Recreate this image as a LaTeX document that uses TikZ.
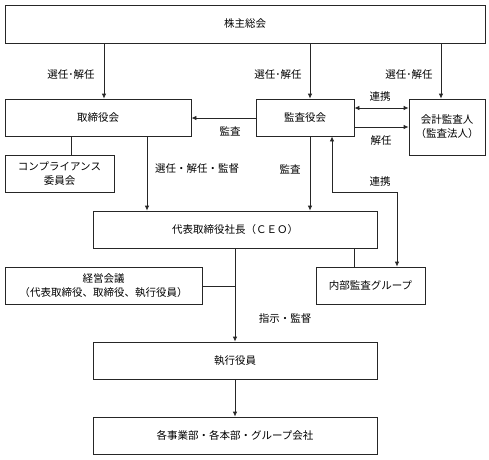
\documentclass[tikz,border=0pt]{standalone}
\usepackage{fontspec}
\setmainfont{Noto Sans CJK JP}
\usetikzlibrary{arrows.meta,calc}
\begin{document}
\begin{tikzpicture}[x=1pt,y=-1pt,
  font=\fontsize{10.5}{14}\selectfont,
  box/.style={draw=black!85,line width=0.8pt,inner sep=0pt,align=center,
    minimum width=#1},
  box/.default=100pt,
  ln/.style={draw=black!85,line width=0.8pt},
  arr/.style={ln,-{Latex[length=5pt,width=4.5pt]}},
  darr/.style={ln,{Latex[length=5pt,width=4.5pt]}-{Latex[length=5pt,width=4.5pt]}},
  lbl/.style={inner sep=0pt}]
\useasboundingbox (0,0) rectangle (489,459);
% boxes
\node[box=480pt,minimum height=38pt] (sh) at (245,24) {株主総会};
\node[box=186pt,minimum height=37pt] (bod) at (98,117.5) {取締役会};
\node[box=98pt,minimum height=37pt] (kan) at (305,117.5) {監査役会};
\node[box=76pt,minimum height=56pt] (aud) at (447,127) {会計監査人\\（監査法人）};
\node[box=109pt,minimum height=37pt] (comp) at (59.5,173.5) {コンプライアンス\\委員会};
\node[box=284pt,minimum height=37pt] (ceo) at (235,229.5) {代表取締役社長（ＣＥＯ）};
\node[box=197pt,minimum height=37pt] (mtg) at (103.5,285.5) {経営会議\\（代表取締役、取締役、執行役員）};
\node[box=109pt,minimum height=37pt] (ia) at (370.5,285.5) {内部監査グループ};
\node[box=284pt,minimum height=37pt] (exe) at (235,360.5) {執行役員};
\node[box=284pt,minimum height=37pt] (div) at (235,435.5) {各事業部・各本部・グループ会社};
% helper coordinates
\coordinate (xa) at (104,0);
\coordinate (xb) at (310,0);
\coordinate (xc) at (441,0);
\coordinate (xd) at (71,0);
\coordinate (xe) at (147,0);
\coordinate (xf) at (332,0);
\coordinate (xg) at (397,0);
\coordinate (xi) at (354,0);
\coordinate (ya) at (0,108);
\coordinate (yb) at (0,127);
\coordinate (yc) at (0,118);
\coordinate (yd) at (0,192);
\coordinate (ye) at (0,286);
\coordinate (bend1) at (xf |- yd);
\coordinate (bend2) at (xg |- yd);
% connectors
\draw[arr] (sh.south -| xa) -- (bod.north -| xa);
\draw[arr] (sh.south -| xb) -- (kan.north -| xb);
\draw[arr] (sh.south -| xc) -- (aud.north -| xc);
\draw[darr] (kan.east |- ya) -- (aud.west |- ya);
\draw[arr] (kan.east |- yb) -- (aud.west |- yb);
\draw[arr] (kan.west |- yc) -- (bod.east |- yc);
\draw[ln] (bod.south -| xd) -- (comp.north -| xd);
\draw[arr] (bod.south -| xe) -- (ceo.north -| xe);
\draw[arr] (kan.south -| xb) -- (ceo.north -| xb);
\draw[darr] (kan.south -| xf) -- (bend1) -- (bend2) -- (ia.north -| xg);
\draw[ln] (ceo.south -| xi) -- (ia.north -| xi);
\draw[arr] (ceo.south) -- (exe.north);
\draw[ln] (mtg.east |- ye) -- (ceo.south |- ye);
\draw[arr] (exe.south) -- (div.north);
% labels
\node[lbl] (l1) at (71,75) {選任･解任};
\node[lbl] (l2) at (278,75) {選任･解任};
\node[lbl] (l3) at (409,75) {選任･解任};
\node[lbl] (l4) at (380,97) {連携};
\node[lbl] (l5) at (381,141) {解任};
\node[lbl] (l6) at (230,131) {監査};
\node[lbl] (l7) at (197,169) {選任・解任・監督};
\node[lbl] (l8) at (290,169) {監査};
\node[lbl] (l9) at (380,182) {連携};
\node[lbl] (l10) at (285,318) {指示・監督};
\end{tikzpicture}
\end{document}
